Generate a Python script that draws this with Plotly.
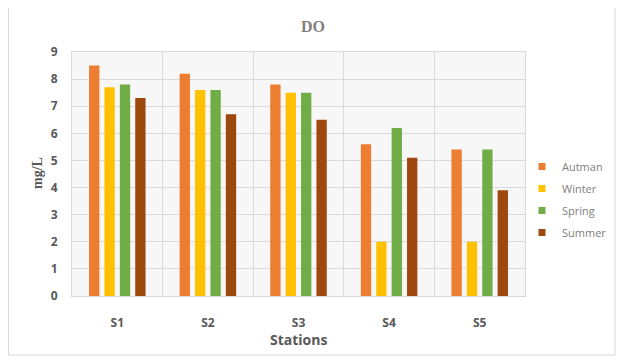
import plotly.graph_objects as go

stations = ["S1", "S2", "S3", "S4", "S5"]
autman = [8.5, 8.2, 7.8, 5.6, 5.4]
winter = [7.7, 7.6, 7.5, 2.0, 2.0]
spring = [7.8, 7.6, 7.5, 6.2, 5.4]
summer = [7.3, 6.7, 6.5, 5.1, 3.9]

series = [
    ("Autman", autman, "#ED7D31"),
    ("Winter", winter, "#FFC000"),
    ("Spring", spring, "#70AD47"),
    ("Summer", summer, "#9E480E"),
]

fig = go.Figure()
for name, vals, col in series:
    fig.add_trace(go.Bar(x=stations, y=vals, name=name, marker_color=col,
                         marker_line_width=0, showlegend=False, legendgroup=name))
# legend entries with small square swatches
for name, vals, col in series:
    fig.add_trace(go.Scatter(x=[None], y=[None], mode="markers", name=name,
                             legendgroup=name,
                             marker=dict(symbol="square", size=7, color=col)))

OFF = 8  # page body margin
W, H = 625 - OFF, 360 - OFF
# target plot area (screen pixels)
PX0, PX1, PY0, PY1 = 72, 525, 52, 296
L, R, T, B = PX0 - OFF, W - (PX1 - OFF), PY0 - OFF, H - (PY1 - OFF)
pw, ph = PX1 - PX0, PY1 - PY0


def px(x):
    return (x - PX0) / pw


def py(y):
    return (PY1 - y) / ph


fig.update_layout(
    width=W, height=H,
    margin=dict(l=L, r=R, t=T, b=B, autoexpand=False),
    paper_bgcolor="white",
    plot_bgcolor="#f7f7f7",
    barmode="group",
    bargap=0.32,
    bargroupgap=0.33,
    title=dict(text="<b>DO</b>", x=(313 - OFF) / W, xanchor="center",
               y=1 - (26 - OFF) / H, yanchor="middle",
               font=dict(family="Liberation Serif", size=16, color="#7f7f7f")),
    legend=dict(xref="container", yref="container",
                x=(522 - OFF) / W, y=1 - (152 - OFF) / H, xanchor="left", yanchor="top",
                font=dict(family="Open Sans", size=11, color="#808080"),
                tracegroupgap=3, itemwidth=30, bgcolor="rgba(0,0,0,0)"),
    shapes=[dict(type="rect", xref="paper", yref="paper",
                 x0=px(8.5), x1=px(615), y0=py(355), y1=py(5),
                 line=dict(color="#d9d9d9", width=1), fillcolor="rgba(0,0,0,0)",
                 layer="below")],
    annotations=[
        dict(text="<b>Stations</b>", xref="paper", yref="paper",
             x=px(298.5), y=py(339), xanchor="center", yanchor="middle",
             showarrow=False,
             font=dict(family="Open Sans", size=14, color="#595959")),
        dict(text="<b>mg/L</b>", xref="paper", yref="paper",
             x=px(37), y=py(173), xanchor="center", yanchor="middle",
             textangle=-90, showarrow=False,
             font=dict(family="Liberation Serif", size=14, color="#595959")),
    ],
    xaxis=dict(
        automargin=False,
        tickfont=dict(family="Open Sans", size=12, color="#595959"),
        tickprefix="<b>", ticksuffix="</b>",
        ticklabelstandoff=16,
        tickson="boundaries", showgrid=True, gridcolor="#d9d9d9",
        showline=True, linecolor="#d9d9d9", mirror=True, ticks="",
    ),
    yaxis=dict(
        automargin=False,
        range=[0, 9], dtick=1,
        tickfont=dict(family="Open Sans", size=12, color="#595959"),
        tickprefix="<b>", ticksuffix="</b>",
        ticklabelstandoff=11,
        showgrid=True, gridcolor="#d9d9d9",
        showline=True, linecolor="#d9d9d9", mirror=True, ticks="",
        zeroline=False,
    ),
)

fig.write_html("out.html")
